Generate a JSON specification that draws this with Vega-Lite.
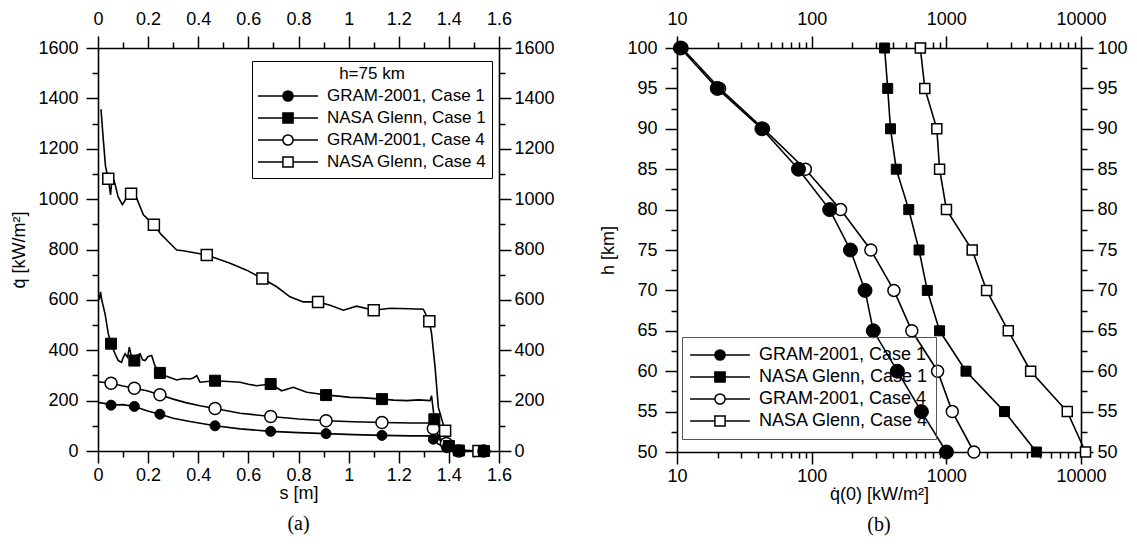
{
  "$schema": "https://vega.github.io/schema/vega-lite/v6.json",
  "padding": {"left": 10, "top": 10, "right": 5, "bottom": 5},
  "background": "white",
  "spacing": 44,
  "resolve": {"scale": {"shape": "independent", "fill": "independent"}, "legend": {"shape": "independent", "fill": "independent"}},
  "config": {
    "view": {"stroke": null},
    "font": "Liberation Sans",
    "axis": {
      "labelFont": "Liberation Sans", "labelFontSize": 18, "labelColor": "black",
      "titleFont": "Liberation Sans", "titleFontSize": 18, "titleFontWeight": "normal", "titleColor": "black",
      "domainColor": "black", "domainWidth": 1.6, "tickColor": "black", "tickWidth": 1.5,
      "grid": false, "labelFlush": false, "labelOverlap": false
    },
    "legend": {"labelFont": "Liberation Sans", "titleFont": "Liberation Sans", "labelColor": "black", "titleColor": "black"}
  },
  "datasets": {
    "leftLines": [
      {"s": 0.0, "q": 193, "series": "GRAM-2001, Case 1"},
      {"s": 0.03, "q": 188, "series": "GRAM-2001, Case 1"},
      {"s": 0.052, "q": 182, "series": "GRAM-2001, Case 1"},
      {"s": 0.1, "q": 184, "series": "GRAM-2001, Case 1"},
      {"s": 0.145, "q": 177, "series": "GRAM-2001, Case 1"},
      {"s": 0.195, "q": 160, "series": "GRAM-2001, Case 1"},
      {"s": 0.247, "q": 146, "series": "GRAM-2001, Case 1"},
      {"s": 0.3, "q": 130, "series": "GRAM-2001, Case 1"},
      {"s": 0.367, "q": 117, "series": "GRAM-2001, Case 1"},
      {"s": 0.467, "q": 100, "series": "GRAM-2001, Case 1"},
      {"s": 0.567, "q": 88, "series": "GRAM-2001, Case 1"},
      {"s": 0.689, "q": 78, "series": "GRAM-2001, Case 1"},
      {"s": 0.8, "q": 73, "series": "GRAM-2001, Case 1"},
      {"s": 0.91, "q": 69, "series": "GRAM-2001, Case 1"},
      {"s": 1.02, "q": 65, "series": "GRAM-2001, Case 1"},
      {"s": 1.133, "q": 62, "series": "GRAM-2001, Case 1"},
      {"s": 1.25, "q": 60, "series": "GRAM-2001, Case 1"},
      {"s": 1.325, "q": 60, "series": "GRAM-2001, Case 1"},
      {"s": 1.338, "q": 47, "series": "GRAM-2001, Case 1"},
      {"s": 1.358, "q": 27, "series": "GRAM-2001, Case 1"},
      {"s": 1.39, "q": 11, "series": "GRAM-2001, Case 1"},
      {"s": 1.44, "q": 2, "series": "GRAM-2001, Case 1"},
      {"s": 1.54, "q": 0, "series": "GRAM-2001, Case 1"},

      {"s": 0.005, "q": 600, "series": "NASA Glenn, Case 1"},
      {"s": 0.01, "q": 632, "series": "NASA Glenn, Case 1"},
      {"s": 0.015, "q": 600, "series": "NASA Glenn, Case 1"},
      {"s": 0.028, "q": 545, "series": "NASA Glenn, Case 1"},
      {"s": 0.041, "q": 466, "series": "NASA Glenn, Case 1"},
      {"s": 0.052, "q": 426, "series": "NASA Glenn, Case 1"},
      {"s": 0.068, "q": 386, "series": "NASA Glenn, Case 1"},
      {"s": 0.081, "q": 359, "series": "NASA Glenn, Case 1"},
      {"s": 0.094, "q": 352, "series": "NASA Glenn, Case 1"},
      {"s": 0.1, "q": 370, "series": "NASA Glenn, Case 1"},
      {"s": 0.108, "q": 386, "series": "NASA Glenn, Case 1"},
      {"s": 0.118, "q": 372, "series": "NASA Glenn, Case 1"},
      {"s": 0.125, "q": 412, "series": "NASA Glenn, Case 1"},
      {"s": 0.134, "q": 372, "series": "NASA Glenn, Case 1"},
      {"s": 0.145, "q": 359, "series": "NASA Glenn, Case 1"},
      {"s": 0.155, "q": 380, "series": "NASA Glenn, Case 1"},
      {"s": 0.168, "q": 386, "series": "NASA Glenn, Case 1"},
      {"s": 0.178, "q": 362, "series": "NASA Glenn, Case 1"},
      {"s": 0.188, "q": 359, "series": "NASA Glenn, Case 1"},
      {"s": 0.2, "q": 375, "series": "NASA Glenn, Case 1"},
      {"s": 0.214, "q": 379, "series": "NASA Glenn, Case 1"},
      {"s": 0.227, "q": 339, "series": "NASA Glenn, Case 1"},
      {"s": 0.247, "q": 310, "series": "NASA Glenn, Case 1"},
      {"s": 0.265, "q": 300, "series": "NASA Glenn, Case 1"},
      {"s": 0.287, "q": 292, "series": "NASA Glenn, Case 1"},
      {"s": 0.314, "q": 282, "series": "NASA Glenn, Case 1"},
      {"s": 0.34, "q": 288, "series": "NASA Glenn, Case 1"},
      {"s": 0.367, "q": 286, "series": "NASA Glenn, Case 1"},
      {"s": 0.38, "q": 290, "series": "NASA Glenn, Case 1"},
      {"s": 0.394, "q": 299, "series": "NASA Glenn, Case 1"},
      {"s": 0.407, "q": 273, "series": "NASA Glenn, Case 1"},
      {"s": 0.467, "q": 279, "series": "NASA Glenn, Case 1"},
      {"s": 0.52, "q": 276, "series": "NASA Glenn, Case 1"},
      {"s": 0.567, "q": 273, "series": "NASA Glenn, Case 1"},
      {"s": 0.6, "q": 265, "series": "NASA Glenn, Case 1"},
      {"s": 0.633, "q": 259, "series": "NASA Glenn, Case 1"},
      {"s": 0.689, "q": 266, "series": "NASA Glenn, Case 1"},
      {"s": 0.733, "q": 239, "series": "NASA Glenn, Case 1"},
      {"s": 0.779, "q": 253, "series": "NASA Glenn, Case 1"},
      {"s": 0.833, "q": 233, "series": "NASA Glenn, Case 1"},
      {"s": 0.87, "q": 228, "series": "NASA Glenn, Case 1"},
      {"s": 0.91, "q": 222, "series": "NASA Glenn, Case 1"},
      {"s": 0.96, "q": 218, "series": "NASA Glenn, Case 1"},
      {"s": 1.006, "q": 213, "series": "NASA Glenn, Case 1"},
      {"s": 1.05, "q": 212, "series": "NASA Glenn, Case 1"},
      {"s": 1.133, "q": 206, "series": "NASA Glenn, Case 1"},
      {"s": 1.18, "q": 202, "series": "NASA Glenn, Case 1"},
      {"s": 1.232, "q": 200, "series": "NASA Glenn, Case 1"},
      {"s": 1.28, "q": 203, "series": "NASA Glenn, Case 1"},
      {"s": 1.325, "q": 200, "series": "NASA Glenn, Case 1"},
      {"s": 1.331, "q": 219, "series": "NASA Glenn, Case 1"},
      {"s": 1.342, "q": 126, "series": "NASA Glenn, Case 1"},
      {"s": 1.358, "q": 53, "series": "NASA Glenn, Case 1"},
      {"s": 1.391, "q": 7, "series": "NASA Glenn, Case 1"},
      {"s": 1.44, "q": 0, "series": "NASA Glenn, Case 1"},
      {"s": 1.54, "q": 0, "series": "NASA Glenn, Case 1"},

      {"s": 0.0, "q": 275, "series": "GRAM-2001, Case 4"},
      {"s": 0.052, "q": 269, "series": "GRAM-2001, Case 4"},
      {"s": 0.1, "q": 258, "series": "GRAM-2001, Case 4"},
      {"s": 0.145, "q": 249, "series": "GRAM-2001, Case 4"},
      {"s": 0.195, "q": 239, "series": "GRAM-2001, Case 4"},
      {"s": 0.247, "q": 223, "series": "GRAM-2001, Case 4"},
      {"s": 0.3, "q": 206, "series": "GRAM-2001, Case 4"},
      {"s": 0.35, "q": 192, "series": "GRAM-2001, Case 4"},
      {"s": 0.407, "q": 180, "series": "GRAM-2001, Case 4"},
      {"s": 0.467, "q": 169, "series": "GRAM-2001, Case 4"},
      {"s": 0.567, "q": 150, "series": "GRAM-2001, Case 4"},
      {"s": 0.689, "q": 137, "series": "GRAM-2001, Case 4"},
      {"s": 0.8, "q": 127, "series": "GRAM-2001, Case 4"},
      {"s": 0.91, "q": 120, "series": "GRAM-2001, Case 4"},
      {"s": 1.02, "q": 116, "series": "GRAM-2001, Case 4"},
      {"s": 1.133, "q": 113, "series": "GRAM-2001, Case 4"},
      {"s": 1.25, "q": 111, "series": "GRAM-2001, Case 4"},
      {"s": 1.325, "q": 111, "series": "GRAM-2001, Case 4"},
      {"s": 1.338, "q": 89, "series": "GRAM-2001, Case 4"},
      {"s": 1.35, "q": 75, "series": "GRAM-2001, Case 4"},
      {"s": 1.378, "q": 33, "series": "GRAM-2001, Case 4"},
      {"s": 1.405, "q": 7, "series": "GRAM-2001, Case 4"},
      {"s": 1.44, "q": 0, "series": "GRAM-2001, Case 4"},
      {"s": 1.54, "q": 0, "series": "GRAM-2001, Case 4"},

      {"s": 0.012, "q": 1357, "series": "NASA Glenn, Case 4"},
      {"s": 0.02, "q": 1250, "series": "NASA Glenn, Case 4"},
      {"s": 0.03, "q": 1130, "series": "NASA Glenn, Case 4"},
      {"s": 0.041, "q": 1081, "series": "NASA Glenn, Case 4"},
      {"s": 0.05, "q": 1017, "series": "NASA Glenn, Case 4"},
      {"s": 0.057, "q": 1091, "series": "NASA Glenn, Case 4"},
      {"s": 0.068, "q": 1060, "series": "NASA Glenn, Case 4"},
      {"s": 0.08, "q": 1010, "series": "NASA Glenn, Case 4"},
      {"s": 0.097, "q": 978, "series": "NASA Glenn, Case 4"},
      {"s": 0.114, "q": 1004, "series": "NASA Glenn, Case 4"},
      {"s": 0.132, "q": 1021, "series": "NASA Glenn, Case 4"},
      {"s": 0.141, "q": 1031, "series": "NASA Glenn, Case 4"},
      {"s": 0.154, "q": 1004, "series": "NASA Glenn, Case 4"},
      {"s": 0.181, "q": 938, "series": "NASA Glenn, Case 4"},
      {"s": 0.223, "q": 898, "series": "NASA Glenn, Case 4"},
      {"s": 0.25, "q": 862, "series": "NASA Glenn, Case 4"},
      {"s": 0.287, "q": 825, "series": "NASA Glenn, Case 4"},
      {"s": 0.314, "q": 798, "series": "NASA Glenn, Case 4"},
      {"s": 0.34, "q": 795, "series": "NASA Glenn, Case 4"},
      {"s": 0.434, "q": 778, "series": "NASA Glenn, Case 4"},
      {"s": 0.527, "q": 745, "series": "NASA Glenn, Case 4"},
      {"s": 0.593, "q": 718, "series": "NASA Glenn, Case 4"},
      {"s": 0.656, "q": 685, "series": "NASA Glenn, Case 4"},
      {"s": 0.713, "q": 652, "series": "NASA Glenn, Case 4"},
      {"s": 0.766, "q": 612, "series": "NASA Glenn, Case 4"},
      {"s": 0.819, "q": 592, "series": "NASA Glenn, Case 4"},
      {"s": 0.878, "q": 592, "series": "NASA Glenn, Case 4"},
      {"s": 0.926, "q": 579, "series": "NASA Glenn, Case 4"},
      {"s": 0.979, "q": 559, "series": "NASA Glenn, Case 4"},
      {"s": 1.032, "q": 575, "series": "NASA Glenn, Case 4"},
      {"s": 1.1, "q": 559, "series": "NASA Glenn, Case 4"},
      {"s": 1.166, "q": 567, "series": "NASA Glenn, Case 4"},
      {"s": 1.24, "q": 565, "series": "NASA Glenn, Case 4"},
      {"s": 1.298, "q": 563, "series": "NASA Glenn, Case 4"},
      {"s": 1.322, "q": 515, "series": "NASA Glenn, Case 4"},
      {"s": 1.331, "q": 466, "series": "NASA Glenn, Case 4"},
      {"s": 1.345, "q": 332, "series": "NASA Glenn, Case 4"},
      {"s": 1.358, "q": 173, "series": "NASA Glenn, Case 4"},
      {"s": 1.385, "q": 80, "series": "NASA Glenn, Case 4"},
      {"s": 1.405, "q": 27, "series": "NASA Glenn, Case 4"},
      {"s": 1.43, "q": 5, "series": "NASA Glenn, Case 4"},
      {"s": 1.518, "q": 0, "series": "NASA Glenn, Case 4"}
    ],
    "leftMarks": [
      {"s": 0.052, "q": 182, "series": "GRAM-2001, Case 1"},
      {"s": 0.145, "q": 177, "series": "GRAM-2001, Case 1"},
      {"s": 0.247, "q": 146, "series": "GRAM-2001, Case 1"},
      {"s": 0.467, "q": 100, "series": "GRAM-2001, Case 1"},
      {"s": 0.689, "q": 78, "series": "GRAM-2001, Case 1"},
      {"s": 0.91, "q": 69, "series": "GRAM-2001, Case 1"},
      {"s": 1.133, "q": 62, "series": "GRAM-2001, Case 1"},
      {"s": 1.338, "q": 47, "series": "GRAM-2001, Case 1"},
      {"s": 1.391, "q": 13, "series": "GRAM-2001, Case 1"},
      {"s": 1.44, "q": 2, "series": "GRAM-2001, Case 1"},
      {"s": 1.54, "q": 0, "series": "GRAM-2001, Case 1"},
      {"s": 0.052, "q": 426, "series": "NASA Glenn, Case 1"},
      {"s": 0.145, "q": 359, "series": "NASA Glenn, Case 1"},
      {"s": 0.247, "q": 310, "series": "NASA Glenn, Case 1"},
      {"s": 0.467, "q": 279, "series": "NASA Glenn, Case 1"},
      {"s": 0.689, "q": 266, "series": "NASA Glenn, Case 1"},
      {"s": 0.91, "q": 222, "series": "NASA Glenn, Case 1"},
      {"s": 1.133, "q": 206, "series": "NASA Glenn, Case 1"},
      {"s": 1.342, "q": 126, "series": "NASA Glenn, Case 1"},
      {"s": 1.4, "q": 20, "series": "NASA Glenn, Case 1"},
      {"s": 1.44, "q": 2, "series": "NASA Glenn, Case 1"},
      {"s": 1.54, "q": 0, "series": "NASA Glenn, Case 1"},
      {"s": 0.052, "q": 269, "series": "GRAM-2001, Case 4"},
      {"s": 0.145, "q": 249, "series": "GRAM-2001, Case 4"},
      {"s": 0.247, "q": 223, "series": "GRAM-2001, Case 4"},
      {"s": 0.467, "q": 169, "series": "GRAM-2001, Case 4"},
      {"s": 0.689, "q": 137, "series": "GRAM-2001, Case 4"},
      {"s": 0.91, "q": 120, "series": "GRAM-2001, Case 4"},
      {"s": 1.133, "q": 113, "series": "GRAM-2001, Case 4"},
      {"s": 1.338, "q": 89, "series": "GRAM-2001, Case 4"},
      {"s": 1.39, "q": 30, "series": "GRAM-2001, Case 4"},
      {"s": 1.44, "q": 0, "series": "GRAM-2001, Case 4"},
      {"s": 1.54, "q": 0, "series": "GRAM-2001, Case 4"},
      {"s": 0.041, "q": 1081, "series": "NASA Glenn, Case 4"},
      {"s": 0.132, "q": 1021, "series": "NASA Glenn, Case 4"},
      {"s": 0.223, "q": 898, "series": "NASA Glenn, Case 4"},
      {"s": 0.434, "q": 778, "series": "NASA Glenn, Case 4"},
      {"s": 0.656, "q": 685, "series": "NASA Glenn, Case 4"},
      {"s": 0.878, "q": 592, "series": "NASA Glenn, Case 4"},
      {"s": 1.1, "q": 559, "series": "NASA Glenn, Case 4"},
      {"s": 1.322, "q": 515, "series": "NASA Glenn, Case 4"},
      {"s": 1.385, "q": 80, "series": "NASA Glenn, Case 4"},
      {"s": 1.518, "q": 0, "series": "NASA Glenn, Case 4"}
    ],
    "rightPts": [
      {"h": 100, "q0": 10.6, "series": "GRAM-2001, Case 1"},
      {"h": 95, "q0": 19.9, "series": "GRAM-2001, Case 1"},
      {"h": 90, "q0": 42.7, "series": "GRAM-2001, Case 1"},
      {"h": 85, "q0": 79.8, "series": "GRAM-2001, Case 1"},
      {"h": 80, "q0": 136, "series": "GRAM-2001, Case 1"},
      {"h": 75, "q0": 194, "series": "GRAM-2001, Case 1"},
      {"h": 70, "q0": 249, "series": "GRAM-2001, Case 1"},
      {"h": 65, "q0": 287, "series": "GRAM-2001, Case 1"},
      {"h": 60, "q0": 433, "series": "GRAM-2001, Case 1"},
      {"h": 55, "q0": 653, "series": "GRAM-2001, Case 1"},
      {"h": 50, "q0": 1002, "series": "GRAM-2001, Case 1"},
      {"h": 100, "q0": 348, "series": "NASA Glenn, Case 1"},
      {"h": 95, "q0": 367, "series": "NASA Glenn, Case 1"},
      {"h": 90, "q0": 385, "series": "NASA Glenn, Case 1"},
      {"h": 85, "q0": 425, "series": "NASA Glenn, Case 1"},
      {"h": 80, "q0": 526, "series": "NASA Glenn, Case 1"},
      {"h": 75, "q0": 627, "series": "NASA Glenn, Case 1"},
      {"h": 70, "q0": 722, "series": "NASA Glenn, Case 1"},
      {"h": 65, "q0": 891, "series": "NASA Glenn, Case 1"},
      {"h": 60, "q0": 1400, "series": "NASA Glenn, Case 1"},
      {"h": 55, "q0": 2703, "series": "NASA Glenn, Case 1"},
      {"h": 50, "q0": 4667, "series": "NASA Glenn, Case 1"},
      {"h": 100, "q0": 10.9, "series": "GRAM-2001, Case 4"},
      {"h": 95, "q0": 20.7, "series": "GRAM-2001, Case 4"},
      {"h": 90, "q0": 43.9, "series": "GRAM-2001, Case 4"},
      {"h": 85, "q0": 89.8, "series": "GRAM-2001, Case 4"},
      {"h": 80, "q0": 164, "series": "GRAM-2001, Case 4"},
      {"h": 75, "q0": 275, "series": "GRAM-2001, Case 4"},
      {"h": 70, "q0": 408, "series": "GRAM-2001, Case 4"},
      {"h": 65, "q0": 554, "series": "GRAM-2001, Case 4"},
      {"h": 60, "q0": 861, "series": "GRAM-2001, Case 4"},
      {"h": 55, "q0": 1107, "series": "GRAM-2001, Case 4"},
      {"h": 50, "q0": 1603, "series": "GRAM-2001, Case 4"},
      {"h": 100, "q0": 641, "series": "NASA Glenn, Case 4"},
      {"h": 95, "q0": 692, "series": "NASA Glenn, Case 4"},
      {"h": 90, "q0": 850, "series": "NASA Glenn, Case 4"},
      {"h": 85, "q0": 891, "series": "NASA Glenn, Case 4"},
      {"h": 80, "q0": 1002, "series": "NASA Glenn, Case 4"},
      {"h": 75, "q0": 1556, "series": "NASA Glenn, Case 4"},
      {"h": 70, "q0": 1991, "series": "NASA Glenn, Case 4"},
      {"h": 65, "q0": 2884, "series": "NASA Glenn, Case 4"},
      {"h": 60, "q0": 4227, "series": "NASA Glenn, Case 4"},
      {"h": 55, "q0": 7907, "series": "NASA Glenn, Case 4"},
      {"h": 50, "q0": 10800, "series": "NASA Glenn, Case 4"}
    ]
  },
  "hconcat": [
    {
      "width": 401,
      "height": 403,
      "title": {"text": "(a)", "orient": "bottom", "anchor": "middle", "font": "Liberation Serif", "fontSize": 20, "fontWeight": "normal", "color": "black", "offset": 12},
      "resolve": {"axis": {"x": "independent", "y": "independent"}},
      "layer": [
        {
          "data": {"name": "leftLines"},
          "mark": {"type": "line", "color": "black", "strokeWidth": 1.6},
          "encoding": {
            "x": {"field": "s", "type": "quantitative", "scale": {"domain": [0, 1.6], "nice": false, "zero": false},
                  "axis": {"orient": "bottom", "values": [0, 0.2, 0.4, 0.6, 0.8, 1, 1.2, 1.4, 1.6], "format": "~g", "tickSize": 12, "labelPadding": 3, "title": "s [m]", "titlePadding": 0}},
            "y": {"field": "q", "type": "quantitative", "scale": {"domain": [0, 1600], "nice": false, "zero": false},
                  "axis": {"orient": "left", "values": [0, 200, 400, 600, 800, 1000, 1200, 1400, 1600], "format": "d", "tickSize": 12, "labelPadding": 8, "title": "q̇ [kW/m²]", "titlePadding": 9}},
            "detail": {"field": "series"}
          }
        },
        {
          "data": {"name": "leftMarks"},
          "transform": [{"filter": "datum.series == 'NASA Glenn, Case 4'"}],
          "mark": {"type": "point", "shape": "square", "filled": true, "fill": "white", "stroke": "black", "strokeWidth": 1.5, "size": 121, "opacity": 1},
          "encoding": {
            "x": {"field": "s", "type": "quantitative", "scale": {"domain": [0, 1.6], "nice": false, "zero": false},
                  "axis": {"orient": "top", "values": [0, 0.2, 0.4, 0.6, 0.8, 1, 1.2, 1.4, 1.6], "format": "~g", "tickSize": 12, "labelPadding": 8, "title": null}},
            "y": {"field": "q", "type": "quantitative", "scale": {"domain": [0, 1600], "nice": false, "zero": false},
                  "axis": {"orient": "right", "values": [0, 200, 400, 600, 800, 1000, 1200, 1400, 1600], "format": "d", "tickSize": 12, "labelPadding": 3, "title": null}}
          }
        },
        {
          "data": {"name": "leftMarks"},
          "transform": [{"filter": "datum.series == 'GRAM-2001, Case 4'"}],
          "mark": {"type": "point", "shape": "circle", "filled": true, "fill": "white", "stroke": "black", "strokeWidth": 1.5, "size": 144, "opacity": 1},
          "encoding": {
            "x": {"field": "s", "type": "quantitative", "scale": {"domain": [0, 1.6], "nice": false, "zero": false},
                  "axis": {"orient": "bottom", "values": [0.1, 0.3, 0.5, 0.7, 0.9, 1.1, 1.3, 1.5], "tickSize": 6, "labels": false, "domain": false, "title": null}},
            "y": {"field": "q", "type": "quantitative", "scale": {"domain": [0, 1600], "nice": false, "zero": false},
                  "axis": {"orient": "left", "values": [100, 300, 500, 700, 900, 1100, 1300, 1500], "tickSize": 6, "labels": false, "domain": false, "title": null}}
          }
        },
        {
          "data": {"name": "leftMarks"},
          "transform": [{"filter": "datum.series == 'NASA Glenn, Case 1'"}],
          "mark": {"type": "point", "shape": "square", "filled": true, "fill": "black", "stroke": "black", "strokeWidth": 1, "size": 121, "opacity": 1},
          "encoding": {
            "x": {"field": "s", "type": "quantitative", "scale": {"domain": [0, 1.6], "nice": false, "zero": false},
                  "axis": {"orient": "top", "values": [0.1, 0.3, 0.5, 0.7, 0.9, 1.1, 1.3, 1.5], "tickSize": 6, "labels": false, "domain": false, "title": null}},
            "y": {"field": "q", "type": "quantitative", "scale": {"domain": [0, 1600], "nice": false, "zero": false},
                  "axis": {"orient": "right", "values": [100, 300, 500, 700, 900, 1100, 1300, 1500], "tickSize": 6, "labels": false, "domain": false, "title": null}}
          }
        },
        {
          "data": {"name": "leftMarks"},
          "transform": [{"filter": "datum.series == 'GRAM-2001, Case 1'"}],
          "mark": {"type": "point", "shape": "circle", "filled": true, "fill": "black", "stroke": "black", "strokeWidth": 1, "size": 100, "opacity": 1},
          "encoding": {
            "x": {"field": "s", "type": "quantitative", "scale": {"domain": [0, 1.6], "nice": false, "zero": false}, "axis": null},
            "y": {"field": "q", "type": "quantitative", "scale": {"domain": [0, 1600], "nice": false, "zero": false}, "axis": null}
          }
        },
        {
          "data": {"name": "leftMarks"},
          "transform": [{"filter": "false"}],
          "mark": {"type": "point", "filled": true, "stroke": "black", "strokeWidth": 1.5, "opacity": 1},
          "encoding": {
            "x": {"field": "s", "type": "quantitative", "scale": {"domain": [0, 1.6], "nice": false, "zero": false}, "axis": null},
            "y": {"field": "q", "type": "quantitative", "scale": {"domain": [0, 1600], "nice": false, "zero": false}, "axis": null},
            "shape": {
              "field": "series", "type": "nominal",
              "scale": {"domain": ["GRAM-2001, Case 1", "NASA Glenn, Case 1", "GRAM-2001, Case 4", "NASA Glenn, Case 4"],
                        "range": ["M-1,0H-0.17M0.17,0H1M-0.17,0A0.17,0.17,0,1,1,0.17,0A0.17,0.17,0,1,1,-0.17,0Z", "M-1,0H-0.17M0.17,0H1M-0.17,-0.17H0.17V0.17H-0.17Z", "M-1,0H-0.17M0.17,0H1M-0.17,0A0.17,0.17,0,1,1,0.17,0A0.17,0.17,0,1,1,-0.17,0Z", "M-1,0H-0.17M0.17,0H1M-0.17,-0.17H0.17V0.17H-0.17Z"]},
              "legend": {
                "orient": "none", "legendX": 154, "legendY": 13,
                "title": "h=75 km", "titleAnchor": "middle", "titleFontSize": 17, "titleFontWeight": "normal", "titlePadding": 2, "titleOrient": "top",
                "labelFontSize": 17, "labelOffset": 8, "labelLimit": 300,
                "strokeColor": "black", "fillColor": "white", "padding": 5,
                "symbolSize": 3600, "clipHeight": 22, "rowPadding": 0, "symbolStrokeWidth": 1.5, "symbolOpacity": 1
              }
            },
            "fill": {
              "field": "series", "type": "nominal",
              "scale": {"domain": ["GRAM-2001, Case 1", "NASA Glenn, Case 1", "GRAM-2001, Case 4", "NASA Glenn, Case 4"],
                        "range": ["black", "black", "white", "white"]},
              "legend": {
                "orient": "none", "legendX": 154, "legendY": 13,
                "title": "h=75 km", "titleAnchor": "middle", "titleFontSize": 17, "titleFontWeight": "normal", "titlePadding": 2, "titleOrient": "top",
                "labelFontSize": 17, "labelOffset": 8, "labelLimit": 300,
                "strokeColor": "black", "fillColor": "white", "padding": 5,
                "symbolSize": 3600, "clipHeight": 22, "rowPadding": 0, "symbolStrokeWidth": 1.5, "symbolOpacity": 1
              }
            }
          }
        }
      ]
    },
    {
      "width": 404,
      "height": 404,
      "title": {"text": "(b)", "orient": "bottom", "anchor": "middle", "font": "Liberation Serif", "fontSize": 20, "fontWeight": "normal", "color": "black", "offset": 12},
      "resolve": {"axis": {"x": "independent", "y": "independent"}},
      "layer": [
        {
          "data": {"name": "rightPts"},
          "mark": {"type": "line", "color": "black", "strokeWidth": 1.6},
          "encoding": {
            "x": {"field": "q0", "type": "quantitative", "scale": {"type": "log", "domain": [10, 10000], "nice": false},
                  "axis": {"orient": "bottom", "values": [10, 100, 1000, 10000], "format": "d", "tickSize": 12, "labelPadding": 3, "title": "q̇(0) [kW/m²]", "titlePadding": 0}},
            "y": {"field": "h", "type": "quantitative", "scale": {"domain": [50, 100], "nice": false, "zero": false},
                  "axis": {"orient": "left", "values": [50, 55, 60, 65, 70, 75, 80, 85, 90, 95, 100], "format": "d", "tickSize": 12, "labelPadding": 8, "title": "h [km]", "titlePadding": 9}},
            "detail": {"field": "series"},
            "order": {"field": "h", "type": "quantitative"}
          }
        },
        {
          "data": {"name": "rightPts"},
          "transform": [{"filter": "datum.series == 'NASA Glenn, Case 4'"}],
          "mark": {"type": "point", "shape": "square", "filled": true, "fill": "white", "stroke": "black", "strokeWidth": 1.5, "size": 100, "opacity": 1},
          "encoding": {
            "x": {"field": "q0", "type": "quantitative", "scale": {"type": "log", "domain": [10, 10000], "nice": false},
                  "axis": {"orient": "top", "values": [10, 100, 1000, 10000], "format": "d", "tickSize": 12, "labelPadding": 8, "title": null}},
            "y": {"field": "h", "type": "quantitative", "scale": {"domain": [50, 100], "nice": false, "zero": false},
                  "axis": {"orient": "right", "values": [50, 55, 60, 65, 70, 75, 80, 85, 90, 95, 100], "format": "d", "tickSize": 12, "labelPadding": 4, "title": null}}
          }
        },
        {
          "data": {"name": "rightPts"},
          "transform": [{"filter": "datum.series == 'GRAM-2001, Case 4'"}],
          "mark": {"type": "point", "shape": "circle", "filled": true, "fill": "white", "stroke": "black", "strokeWidth": 1.5, "size": 144, "opacity": 1},
          "encoding": {
            "x": {"field": "q0", "type": "quantitative", "scale": {"type": "log", "domain": [10, 10000], "nice": false},
                  "axis": {"orient": "bottom", "values": [20, 30, 40, 50, 60, 70, 80, 90, 200, 300, 400, 500, 600, 700, 800, 900, 2000, 3000, 4000, 5000, 6000, 7000, 8000, 9000], "tickSize": 6, "labels": false, "domain": false, "title": null}},
            "y": {"field": "h", "type": "quantitative", "scale": {"domain": [50, 100], "nice": false, "zero": false},
                  "axis": {"orient": "left", "values": [52.5, 57.5, 62.5, 67.5, 72.5, 77.5, 82.5, 87.5, 92.5, 97.5], "tickSize": 6, "labels": false, "domain": false, "title": null}}
          }
        },
        {
          "data": {"name": "rightPts"},
          "transform": [{"filter": "datum.series == 'NASA Glenn, Case 1'"}],
          "mark": {"type": "point", "shape": "square", "filled": true, "fill": "black", "stroke": "black", "strokeWidth": 1, "size": 100, "opacity": 1},
          "encoding": {
            "x": {"field": "q0", "type": "quantitative", "scale": {"type": "log", "domain": [10, 10000], "nice": false},
                  "axis": {"orient": "top", "values": [20, 30, 40, 50, 60, 70, 80, 90, 200, 300, 400, 500, 600, 700, 800, 900, 2000, 3000, 4000, 5000, 6000, 7000, 8000, 9000], "tickSize": 6, "labels": false, "domain": false, "title": null}},
            "y": {"field": "h", "type": "quantitative", "scale": {"domain": [50, 100], "nice": false, "zero": false},
                  "axis": {"orient": "right", "values": [52.5, 57.5, 62.5, 67.5, 72.5, 77.5, 82.5, 87.5, 92.5, 97.5], "tickSize": 6, "labels": false, "domain": false, "title": null}}
          }
        },
        {
          "data": {"name": "rightPts"},
          "transform": [{"filter": "datum.series == 'GRAM-2001, Case 1'"}],
          "mark": {"type": "point", "shape": "circle", "filled": true, "fill": "black", "stroke": "black", "strokeWidth": 1, "size": 196, "opacity": 1},
          "encoding": {
            "x": {"field": "q0", "type": "quantitative", "scale": {"type": "log", "domain": [10, 10000], "nice": false}, "axis": null},
            "y": {"field": "h", "type": "quantitative", "scale": {"domain": [50, 100], "nice": false, "zero": false}, "axis": null}
          }
        },
        {
          "data": {"name": "rightPts"},
          "transform": [{"filter": "false"}],
          "mark": {"type": "point", "filled": true, "stroke": "black", "strokeWidth": 1.5, "opacity": 1},
          "encoding": {
            "x": {"field": "q0", "type": "quantitative", "scale": {"type": "log", "domain": [10, 10000], "nice": false}, "axis": null},
            "y": {"field": "h", "type": "quantitative", "scale": {"domain": [50, 100], "nice": false, "zero": false}, "axis": null},
            "shape": {
              "field": "series", "type": "nominal",
              "scale": {"domain": ["GRAM-2001, Case 1", "NASA Glenn, Case 1", "GRAM-2001, Case 4", "NASA Glenn, Case 4"],
                        "range": ["M-1,0H-0.17M0.17,0H1M-0.17,0A0.17,0.17,0,1,1,0.17,0A0.17,0.17,0,1,1,-0.17,0Z", "M-1,0H-0.17M0.17,0H1M-0.17,-0.17H0.17V0.17H-0.17Z", "M-1,0H-0.17M0.17,0H1M-0.17,0A0.17,0.17,0,1,1,0.17,0A0.17,0.17,0,1,1,-0.17,0Z", "M-1,0H-0.17M0.17,0H1M-0.17,-0.17H0.17V0.17H-0.17Z"]},
              "legend": {
                "orient": "none", "legendX": 5, "legendY": 289,
                "title": null,
                "labelFontSize": 18, "labelOffset": 8, "labelLimit": 300,
                "strokeColor": "#555555", "padding": 7,
                "symbolSize": 3600, "clipHeight": 22, "rowPadding": 0, "symbolStrokeWidth": 1.5, "symbolOpacity": 1,
                "encode": {"legend": {"strokeWidth": {"value": 2}}}
              }
            },
            "fill": {
              "field": "series", "type": "nominal",
              "scale": {"domain": ["GRAM-2001, Case 1", "NASA Glenn, Case 1", "GRAM-2001, Case 4", "NASA Glenn, Case 4"],
                        "range": ["black", "black", "white", "white"]},
              "legend": {
                "orient": "none", "legendX": 5, "legendY": 289,
                "title": null,
                "labelFontSize": 18, "labelOffset": 8, "labelLimit": 300,
                "strokeColor": "#555555", "padding": 7,
                "symbolSize": 3600, "clipHeight": 22, "rowPadding": 0, "symbolStrokeWidth": 1.5, "symbolOpacity": 1,
                "encode": {"legend": {"strokeWidth": {"value": 2}}}
              }
            }
          }
        }
      ]
    }
  ]
}
